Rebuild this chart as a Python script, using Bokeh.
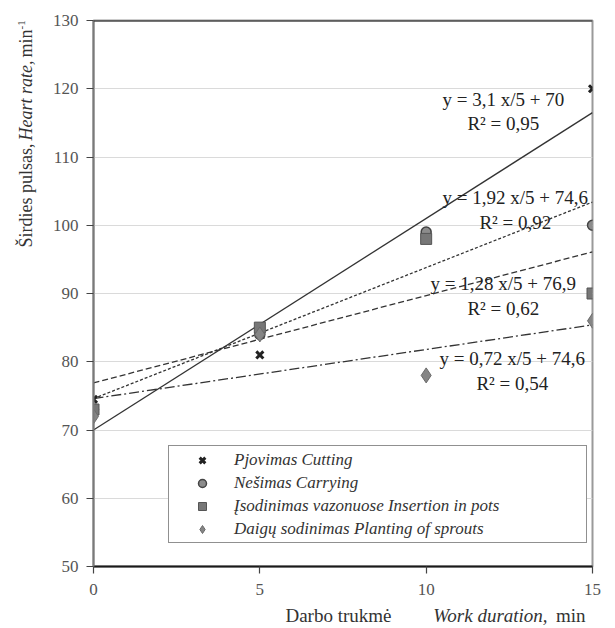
from bokeh.plotting import figure
from bokeh.models import Legend, LegendItem, Range1d, FixedTicker, Label, Span
from bokeh.layouts import column, row
from bokeh.core.properties import value
from bokeh.embed import file_html
from bokeh.resources import INLINE

# ---- data ----
durations = [0, 5, 10, 15]
cutting = [74.5, 81, 98, 120]
carrying = [73, 84, 99, 100]
insertion = [73, 85, 98, 90]
sprouts = [72, 84, 78, 86]

series_names = ["Pjovimas Cutting", "Nešimas Carrying",
                "Įsodinimas vazonuose Insertion in pots",
                "Daigų sodinimas Planting of sprouts"]
trend_slopes = [3.1, 1.92, 1.28, 0.72]
trend_intercepts = [70, 74.6, 76.9, 74.6]
equation_texts = ["y = 3,1 x/5 + 70", "y = 1,92 x/5 + 74,6",
                  "y = 1,28 x/5 + 76,9", "y = 0,72 x/5 + 74,6"]
r2_texts = ["R² = 0,95", "R² = 0,92", "R² = 0,62", "R² = 0,54"]
x_ticks = [0, 5, 10, 15]
y_ticks = [50, 60, 70, 80, 90, 100, 110, 120, 130]

SERIF = "Liberation Serif"

# ---- main figure ----
p = figure(width=572, height=604, x_range=Range1d(0, 15), y_range=Range1d(50, 130),
           output_backend="svg", toolbar_location=None,
           min_border_left=53, min_border_right=20, min_border_top=20,
           min_border_bottom=38)
p.background_fill_color = "white"
p.border_fill_color = "white"
p.outline_line_color = "#9a9a9a"
p.outline_line_width = 2
p.xgrid.visible = False
p.ygrid.grid_line_color = "#dadada"
p.ygrid.grid_line_width = 1

p.xaxis.ticker = FixedTicker(ticks=x_ticks)
p.yaxis.ticker = FixedTicker(ticks=y_ticks)
for ax in (p.xaxis, p.yaxis):
    ax.major_label_text_font = SERIF
    ax.major_label_text_font_size = "17px"
    ax.major_label_text_color = "#555555"
    ax.minor_tick_line_color = None
    ax.major_tick_in = 0
    ax.major_tick_out = 7
    ax.major_tick_line_color = "#444444"
    ax.major_tick_line_width = 1.2
p.yaxis.axis_line_color = "#7a7a7a"
p.yaxis.axis_line_width = 2
p.yaxis.major_label_standoff = 8
p.xaxis.axis_line_color = "#1a1a1a"
p.xaxis.axis_line_width = 2
p.xaxis.major_label_standoff = 10

p.add_layout(Span(location=y_ticks[-1], dimension="width", line_color="#222222", line_width=2))

# ---- trend lines ----
dashes = ["solid", "3 2", "6 3", "10 3 2 3"]
for m, b, d in zip(trend_slopes, trend_intercepts, dashes):
    xs = [x_ticks[0], x_ticks[-1]]
    p.line(xs, [b + m * x for x in xs], line_color="#333333", line_width=1.3, line_dash=d)

# ---- markers ----
r_cut = p.scatter(durations, cutting, marker="x", size=10, line_color="#222222", line_width=3)
r_car = p.scatter(durations, carrying, marker="circle", size=10, fill_color="#8c8c8c",
                  line_color="#444444", line_width=1.5)
r_ins = p.scatter(durations, insertion, marker="square", size=11, fill_color="#777777",
                  line_color="#555555", line_width=1)
r_spr = p.scatter(durations, sprouts, marker="diamond", size=15, fill_color="#858585",
                  line_color="#6a6a6a", line_width=1)

legend = Legend(items=[LegendItem(label=n, renderers=[r]) for n, r in
                       zip(series_names, [r_cut, r_car, r_ins, r_spr])],
                location=(75, 23))
legend.label_text_font = SERIF
legend.label_text_font_style = "italic"
legend.label_text_font_size = "17px"
legend.label_text_color = "#333333"
legend.glyph_width = 62
legend.glyph_height = 20
legend.label_height = 23
legend.label_width = 350
legend.spacing = 0
legend.padding = 2
legend.margin = 0
legend.label_standoff = 1
legend.border_line_color = "#222222"
legend.border_line_width = 1.5
legend.background_fill_alpha = 1
p.add_layout(legend)

# ---- equation labels ----
eq_pos = [(12.32, 118.42, 114.91), (12.68, 104.07, 100.40),
          (12.32, 91.47, 87.80), (12.59, 80.48, 76.81)]
for (ex, ey, ry), et, rt in zip(eq_pos, equation_texts, r2_texts):
    for yy, tt in ((ey, et), (ry, rt)):
        p.add_layout(Label(x=ex, y=yy, text=tt, text_font=SERIF, text_font_size="19px",
                           text_align="center", text_baseline="middle", text_color="#222222"))

# ---- y-axis title (mixed styles) ----
yfig = figure(width=40, height=604, x_range=Range1d(0, 1), y_range=p.y_range,
              x_axis_type=None, y_axis_type=None, output_backend="svg",
              toolbar_location=None, min_border_left=0, min_border_right=0,
              min_border_top=20, min_border_bottom=38)
yfig.outline_line_color = None
A = 1.5707963267948966
y_parts = [("Širdies pulsas,", "normal", "right", 0.64, 111.98, "18px"),
           ("Heart rate,", "italic", "left", 0.64, 112.42, "18px"),
           ("min", "normal", "left", 0.64, 124.58, "18px"),
           ("-1", "normal", "left", 0.52, 128.68, "11px")]
for t, st, al, xx, yy, fs in y_parts:
    yfig.text(x=[xx], y=[yy], text=[t], angle=A, text_font=value(SERIF),
              text_font_style=st, text_align=al, text_baseline="middle",
              text_font_size=fs, text_color="#333333")

# ---- x-axis title (mixed styles) ----
xfig = figure(width=612, height=22, x_range=p.x_range, y_range=Range1d(0, 1),
              x_axis_type=None, y_axis_type=None, output_backend="svg",
              toolbar_location=None, min_border_left=93, min_border_right=20,
              min_border_top=0, min_border_bottom=0)
xfig.outline_line_color = None
x_parts = [("Darbo trukmė", "normal", "left", 5.77),
           ("Work duration,", "italic", "right", 13.65),
           ("min", "normal", "right", 14.79)]
for t, st, al, xx in x_parts:
    xfig.text(x=[xx], y=[0.5], text=[t], text_font=value(SERIF), text_font_style=st,
              text_align=al, text_baseline="middle", text_font_size="19px",
              text_color="#333333")

layout = column(row(yfig, p), xfig)
open("out.html", "w").write(file_html(layout, INLINE))
